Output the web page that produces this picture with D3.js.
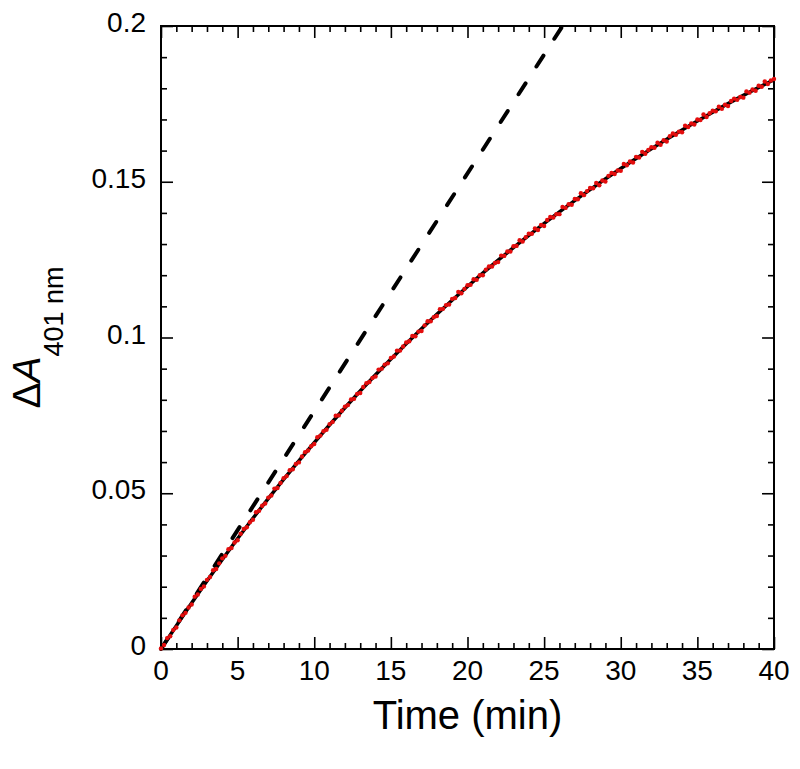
<!DOCTYPE html>
<html>
<head>
<meta charset="utf-8">
<script src="https://cdn.jsdelivr.net/npm/d3@7"></script>
<style>
  body { margin: 0; background: #fff; }
  svg { display: block; }
  text { font-family: "Liberation Sans", Arial, Helvetica, sans-serif; fill: #000; }
</style>
</head>
<body>
<svg id="chart" width="800" height="769"></svg>
<script>
// measured absorbance, one reading every 0.2 min from 0 to 40 min
const sampleStep = 0.2;
const absorbance = [
    0.0002, 0.0013, 0.0035, 0.0041, 0.0061, 0.0069, 0.0092, 0.0108, 0.0116, 0.0133,
    0.0143, 0.0168, 0.0175, 0.0193, 0.0201, 0.0222, 0.0231, 0.0253, 0.0257, 0.0275,
    0.0291, 0.0299, 0.0320, 0.0324, 0.0342, 0.0349, 0.0370, 0.0385, 0.0391, 0.0407,
    0.0415, 0.0439, 0.0444, 0.0460, 0.0467, 0.0486, 0.0493, 0.0515, 0.0517, 0.0533,
    0.0548, 0.0555, 0.0574, 0.0577, 0.0594, 0.0599, 0.0618, 0.0632, 0.0637, 0.0651,
    0.0658, 0.0680, 0.0685, 0.0699, 0.0704, 0.0722, 0.0729, 0.0749, 0.0750, 0.0765,
    0.0778, 0.0783, 0.0801, 0.0803, 0.0819, 0.0822, 0.0841, 0.0853, 0.0857, 0.0870,
    0.0875, 0.0897, 0.0900, 0.0913, 0.0917, 0.0934, 0.0939, 0.0958, 0.0958, 0.0971,
    0.0984, 0.0988, 0.1005, 0.1004, 0.1019, 0.1021, 0.1039, 0.1052, 0.1052, 0.1065,
    0.1069, 0.1091, 0.1092, 0.1104, 0.1106, 0.1124, 0.1127, 0.1146, 0.1142, 0.1156,
    0.1168, 0.1169, 0.1187, 0.1185, 0.1200, 0.1200, 0.1218, 0.1228, 0.1228, 0.1239,
    0.1242, 0.1263, 0.1262, 0.1276, 0.1276, 0.1293, 0.1294, 0.1312, 0.1308, 0.1322,
    0.1333, 0.1333, 0.1350, 0.1345, 0.1361, 0.1358, 0.1377, 0.1387, 0.1385, 0.1396,
    0.1396, 0.1419, 0.1416, 0.1428, 0.1426, 0.1445, 0.1444, 0.1463, 0.1457, 0.1470,
    0.1480, 0.1479, 0.1496, 0.1489, 0.1504, 0.1501, 0.1519, 0.1528, 0.1525, 0.1536,
    0.1535, 0.1557, 0.1553, 0.1565, 0.1562, 0.1580, 0.1578, 0.1596, 0.1590, 0.1602,
    0.1611, 0.1609, 0.1625, 0.1619, 0.1633, 0.1629, 0.1646, 0.1655, 0.1651, 0.1661,
    0.1659, 0.1680, 0.1676, 0.1687, 0.1684, 0.1700, 0.1698, 0.1716, 0.1708, 0.1720,
    0.1728, 0.1726, 0.1741, 0.1734, 0.1747, 0.1743, 0.1759, 0.1767, 0.1763, 0.1772,
    0.1770, 0.1790, 0.1786, 0.1796, 0.1792, 0.1808, 0.1805, 0.1822, 0.1814, 0.1825,
    0.1830
];

// fitted curve (solid black)
const fitTimes = [0, 2, 4, 6, 8, 10, 12, 14, 16, 18, 20, 22, 24, 26, 28, 30, 32, 34, 36, 38, 40];
const fitValues = [0, 0.01478, 0.02876, 0.04197, 0.05446, 0.06628, 0.07745, 0.08802, 0.09800, 0.10745,
    0.11637, 0.12481, 0.13279, 0.14034, 0.14747, 0.15423, 0.16060, 0.16664, 0.17233, 0.17772, 0.18276];

// initial rate (dashed black)
const rateTimes = [0, 26.2];
const rateValues = [0, 0.2];

const xTicks = [0, 5, 10, 15, 20, 25, 30, 35, 40];
const yTicks = [0, 0.05, 0.1, 0.15, 0.2];
const yTickLabels = ["0", "0.05", "0.1", "0.15", "0.2"];

const svg = d3.select("#chart");
const plotLeft = 161, plotRight = 774, plotTop = 26, plotBottom = 649;

const x = d3.scaleLinear().domain([0, 40]).range([plotLeft, plotRight]);
const y = d3.scaleLinear().domain([0, 0.2]).range([plotBottom, plotTop]);

const xMinor = d3.range(0, 41, 1).filter(v => v % 5 !== 0);
const yMinor = d3.range(0, 21, 1).filter(v => v % 5 !== 0).map(v => v / 100);

// ticks pointing inward on all four sides
function tickAxis(axisFn, scale, ticks, len, transform) {
    svg.append("g")
        .attr("transform", transform)
        .call(axisFn(scale).tickValues(ticks).tickSize(len).tickFormat(""))
        .call(g => g.select(".domain").remove())
        .call(g => g.selectAll("line").attr("stroke", "#000").attr("stroke-width", 1.6));
}
tickAxis(d3.axisTop, x, xTicks, 12, `translate(0,${plotBottom})`);
tickAxis(d3.axisTop, x, xMinor, 6, `translate(0,${plotBottom})`);
tickAxis(d3.axisBottom, x, xTicks, 12, `translate(0,${plotTop})`);
tickAxis(d3.axisBottom, x, xMinor, 6, `translate(0,${plotTop})`);
tickAxis(d3.axisRight, y, yTicks, 12, `translate(${plotLeft},0)`);
tickAxis(d3.axisRight, y, yMinor, 6, `translate(${plotLeft},0)`);
tickAxis(d3.axisLeft, y, yTicks, 12, `translate(${plotRight},0)`);
tickAxis(d3.axisLeft, y, yMinor, 6, `translate(${plotRight},0)`);

svg.append("rect")
    .attr("x", plotLeft).attr("y", plotTop)
    .attr("width", plotRight - plotLeft).attr("height", plotBottom - plotTop)
    .attr("fill", "none").attr("stroke", "#000").attr("stroke-width", 2);

// tick labels
svg.append("g")
    .selectAll("text")
    .data(xTicks)
    .join("text")
    .attr("x", d => x(d))
    .attr("y", 680)
    .attr("text-anchor", "middle")
    .attr("font-size", 28)
    .text(d => d);
svg.append("g")
    .selectAll("text")
    .data(yTicks)
    .join("text")
    .attr("x", 146)
    .attr("y", d => y(d) + 6)
    .attr("text-anchor", "end")
    .attr("font-size", 28)
    .text((d, i) => yTickLabels[i]);

// axis titles
svg.append("text")
    .attr("x", (plotLeft + plotRight) / 2)
    .attr("y", 729)
    .attr("text-anchor", "middle")
    .attr("font-size", 40)
    .text("Time (min)");

const yTitle = svg.append("text")
    .attr("transform", `translate(40,${(plotTop + plotBottom) / 2}) rotate(-90)`)
    .attr("text-anchor", "middle")
    .attr("font-size", 39);
yTitle.append("tspan").text("Δ");
yTitle.append("tspan").attr("font-style", "italic").text("A");
yTitle.append("tspan").attr("font-size", 27).attr("dy", 23).text("401 nm");

const plot = svg.append("g");

// dashed initial-rate line
plot.append("path")
    .datum(rateTimes.map((t, i) => [t, rateValues[i]]))
    .attr("d", d3.line().x(d => x(d[0])).y(d => y(d[1])))
    .attr("fill", "none")
    .attr("stroke", "#000")
    .attr("stroke-width", 4)
    .attr("stroke-linecap", "round")
    .attr("stroke-dasharray", "13,20");

// fit curve
plot.append("path")
    .datum(fitTimes.map((t, i) => [t, fitValues[i]]))
    .attr("d", d3.line().x(d => x(d[0])).y(d => y(d[1])).curve(d3.curveNatural))
    .attr("fill", "none")
    .attr("stroke", "#000")
    .attr("stroke-width", 3.5);

// data points
plot.append("g")
    .selectAll("circle")
    .data(absorbance)
    .join("circle")
    .attr("cx", (d, i) => x(i * sampleStep))
    .attr("cy", d => y(d))
    .attr("r", 2.2)
    .attr("fill", "#e30d0d");
</script>
</body>
</html>
